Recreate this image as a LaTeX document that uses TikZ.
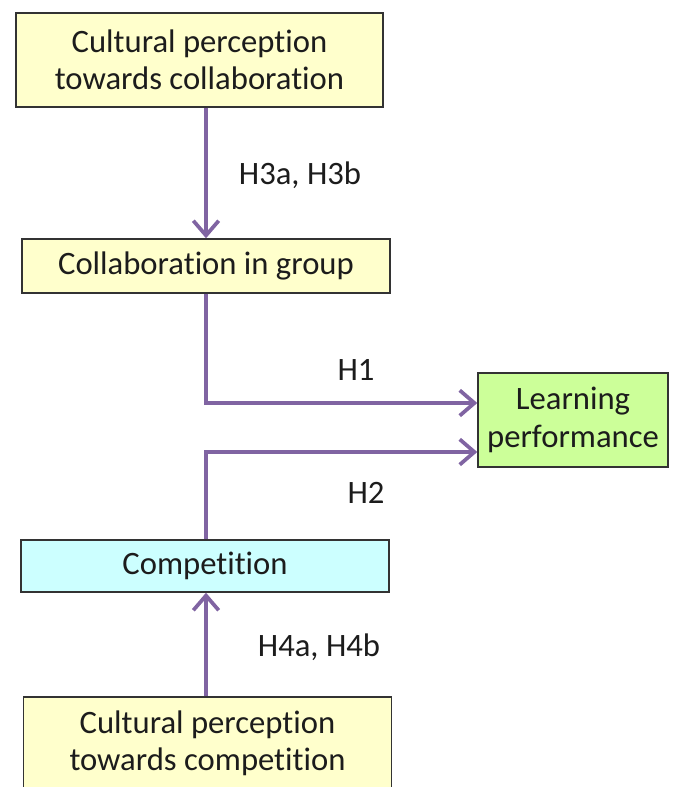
\documentclass[tikz,border=0pt]{standalone}
\usepackage{fontspec}
\setmainfont{Carlito}[Ligatures=NoCommon]
\usetikzlibrary{arrows.meta}
\definecolor{boxyellow}{HTML}{FFFFCC}
\definecolor{boxgreen}{HTML}{CCFF99}
\definecolor{boxcyan}{HTML}{CCFFFF}
\definecolor{linkpurple}{HTML}{8064A2}
\definecolor{inkgray}{HTML}{1C1C1C}
\begin{document}
\begin{tikzpicture}[x=0.75pt,y=-0.75pt,
  concept/.style={draw=inkgray!90, line width=1.1pt, inner sep=0pt,
    font=\fontsize{24.5}{28}\selectfont, text=inkgray, align=center},
  link/.style={draw=linkpurple, line width=3.4pt,
    -{Straight Barb[length=11pt,width=19pt,line width=2.8pt]}},
  hyp/.style={font=\fontsize{24.5}{28}\selectfont, text=inkgray}]
\useasboundingbox (0,0) rectangle (684,787);
\begin{scope}
\clip (0,0) rectangle (684,787);
% concept boxes
\node[concept, fill=boxyellow, minimum width=275.25pt, minimum height=70.5pt]
  (cpcoll) at (199.5,60) {Cultural perception\\towards collaboration};
\node[concept, fill=boxyellow, minimum width=276pt, minimum height=40.5pt]
  (collab) at (206,266) {Collaboration in group};
\node[concept, fill=boxgreen, minimum width=142.5pt, minimum height=70.5pt]
  (learn) at (573,420) {Learning\\performance};
\node[concept, fill=boxcyan, minimum width=276pt, minimum height=39pt]
  (comp) at (205,566) {Competition};
\node[concept, fill=boxyellow, minimum width=276pt, minimum height=69pt]
  (cpcomp) at (207.5,743) {Cultural perception\\towards competition};
% hypothesised paths
\draw[link] (collab.north |- cpcoll.south) -- (collab.north);
\draw[link] (collab.south) |- (learn.west |- 0,403);
\draw[link] (comp.north -| collab.north) |- (learn.west |- 0,452);
\draw[link] (cpcomp.north -| collab.north) -- (comp.south -| collab.north);
% path labels
\node[hyp] (h3) at (300,175) {H3a, H3b};
\node[hyp] (h1) at (356,370) {H1};
\node[hyp] (h2) at (366,493) {H2};
\node[hyp] (h4) at (319,647) {H4a, H4b};
\end{scope}
\end{tikzpicture}
\end{document}
